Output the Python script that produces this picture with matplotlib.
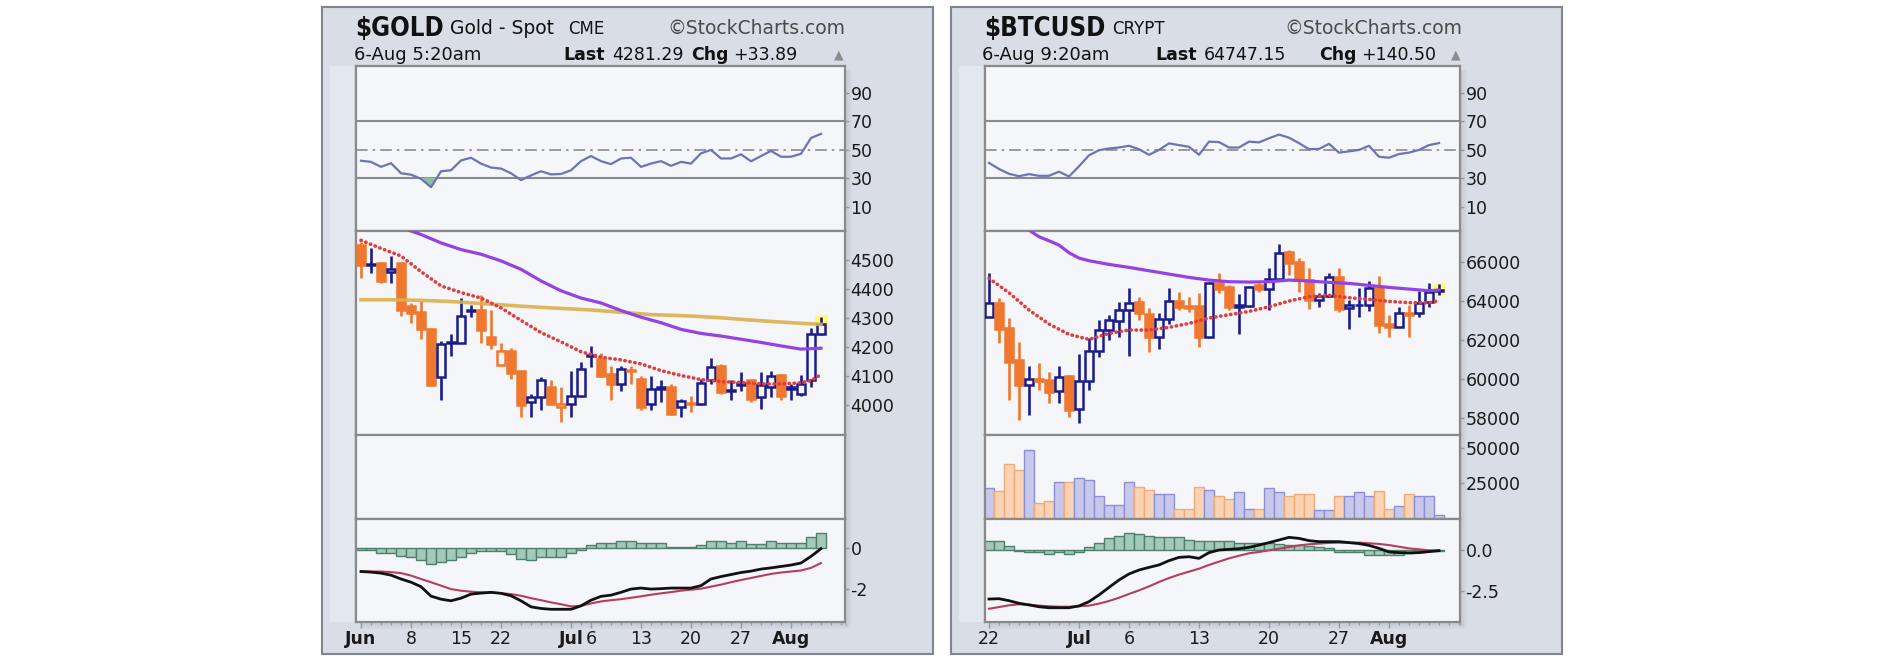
import matplotlib
matplotlib.use("Agg")
import matplotlib.pyplot as plt
from matplotlib.patches import Rectangle

# ---------------- data ----------------
# $GOLD, daily candles Jun 1 .. Aug 6 (trading days, index 0..46)
gold_open = [4551, 4483, 4489, 4457, 4489, 4343, 4320, 4264, 4096, 4213,
             4215, 4325, 4329, 4233, 4138, 4185, 4117, 4011, 4028, 4062,
             3994, 4005, 4033, 4168, 4159, 4107, 4073, 4122, 4090, 4005,
             4056, 4062, 3994, 4008, 4005, 4085, 4136, 4048, 4071, 4085,
             4028, 4062, 4104, 4056, 4039, 4085, 4244]
gold_high = [4563, 4540, 4492, 4514, 4494, 4352, 4358, 4266, 4221, 4244,
             4369, 4346, 4381, 4329, 4215, 4198, 4119, 4039, 4096, 4085,
             4062, 4119, 4147, 4204, 4181, 4136, 4136, 4136, 4102, 4102,
             4085, 4073, 4022, 4033, 4090, 4164, 4142, 4085, 4115, 4087,
             4115, 4119, 4107, 4073, 4104, 4267, 4304]
gold_low = [4437, 4454, 4420, 4420, 4307, 4284, 4227, 4065, 4016, 4170,
            4213, 4304, 4215, 4195, 4136, 4090, 3959, 3959, 3982, 3999,
            3942, 3959, 4028, 4130, 4096, 4016, 4050, 4073, 3982, 3982,
            4011, 3965, 3959, 3977, 3999, 4073, 4039, 4016, 4050, 4011,
            3988, 4028, 4016, 4016, 4033, 4062, 4242]
gold_close = [4483, 4486, 4426, 4469, 4327, 4318, 4261, 4068, 4210, 4218,
              4307, 4329, 4259, 4210, 4187, 4111, 3999, 4028, 4088, 4005,
              4003, 4033, 4124, 4172, 4102, 4073, 4124, 4117, 3994, 4056,
              4061, 3971, 4013, 4004, 4077, 4130, 4045, 4053, 4076, 4022,
              4068, 4102, 4033, 4061, 4073, 4244, 4281]
gold_close_before = 4560

gold_ema20_x = [0, 2, 4, 6, 8, 10, 12, 14, 16, 18, 20, 22, 24, 26, 28, 30,
                32, 34, 36, 38, 40, 42, 44, 45, 46]
gold_ema20 = [4568, 4540, 4514, 4460, 4411, 4388, 4369, 4335, 4292, 4250,
              4218, 4184, 4165, 4156, 4142, 4119, 4102, 4088, 4081, 4078,
              4073, 4073, 4077, 4085, 4105]
gold_sma50_x = [4, 5, 6, 8, 10, 12, 14, 16, 18, 20, 22, 24, 26, 28, 30, 32,
                34, 36, 38, 40, 42, 44, 46]
gold_sma50 = [4615, 4600, 4588, 4559, 4536, 4520, 4497, 4468, 4428, 4394,
              4369, 4352, 4326, 4303, 4284, 4261, 4247, 4238, 4227, 4216,
              4204, 4193, 4196]
gold_sma200_x = [0, 3, 6, 9, 13, 16, 19, 23, 26, 29, 33, 36, 39, 43, 46]
gold_sma200 = [4363, 4363, 4361, 4357, 4348, 4341, 4335, 4328, 4320, 4312,
               4307, 4301, 4293, 4284, 4278]

gold_rsi = [42.4, 41.6, 38.1, 40.7, 33.6, 32.6, 29.7, 23.8, 35.0, 35.7,
            42.6, 44.5, 40.4, 37.6, 36.9, 33.6, 28.8, 32.1, 35.0, 32.8,
            33.1, 35.7, 42.1, 45.7, 42.1, 40.0, 44.0, 44.5, 38.1, 40.4,
            42.1, 38.8, 41.6, 40.4, 47.6, 50.0, 44.0, 44.0, 46.9, 42.0,
            45.7, 49.3, 45.2, 45.2, 47.3, 58.4, 61.3]

gold_macd = [-1.15, -1.18, -1.23, -1.33, -1.52, -1.68, -1.90, -2.37, -2.52, -2.60,
             -2.47, -2.27, -2.22, -2.18, -2.23, -2.35, -2.60, -2.90, -2.98, -3.02,
             -3.02, -3.02, -2.85, -2.57, -2.38, -2.32, -2.18, -2.02, -1.97, -2.02,
             -2.00, -1.97, -1.97, -1.97, -1.85, -1.52, -1.40, -1.30, -1.20, -1.13,
             -1.03, -0.97, -0.90, -0.83, -0.73, -0.40, -0.02]
gold_signal = [-1.15, -1.15, -1.15, -1.18, -1.23, -1.35, -1.52, -1.68, -1.85, -2.02,
               -2.10, -2.15, -2.18, -2.20, -2.22, -2.27, -2.35, -2.47, -2.57, -2.68,
               -2.77, -2.88, -2.85, -2.73, -2.63, -2.57, -2.52, -2.45, -2.38, -2.30,
               -2.23, -2.17, -2.10, -2.05, -2.00, -1.90, -1.80, -1.68, -1.57, -1.47,
               -1.37, -1.27, -1.20, -1.15, -1.10, -0.97, -0.73]
gold_hist = [-0.10, -0.10, -0.23, -0.23, -0.38, -0.43, -0.57, -0.77, -0.68, -0.60,
             -0.43, -0.23, -0.13, -0.13, -0.13, -0.27, -0.52, -0.57, -0.43, -0.43,
             -0.43, -0.23, -0.07, 0.18, 0.27, 0.27, 0.37, 0.37, 0.27, 0.27,
             0.27, 0.07, 0.07, 0.07, 0.15, 0.35, 0.35, 0.27, 0.35, 0.23,
             0.23, 0.35, 0.27, 0.27, 0.27, 0.57, 0.77]

gold_tick_idx = [0, 5, 10, 14, 21, 23, 28, 33, 38, 43]
gold_tick_labels = ["Jun", "8", "15", "22", "Jul", "6", "13", "20", "27", "Aug"]

# $BTCUSD, daily candles Jun 22 .. Aug 6 (index 0..45)
btc_open = [63158, 63907, 62596, 60979, 59703, 59992, 59958, 59413, 60162, 58460,
            59924, 61456, 62511, 62987, 63532, 63958, 63328, 62170, 63056, 64009,
            63736, 63736, 62136, 64928, 64689, 63702, 63736, 64809, 64587, 65098,
            66511, 66000, 65064, 64043, 64247, 65234, 63617, 63770, 63787, 64638,
            62800, 62681, 63294, 63396, 63958, 64500]
btc_high = [65438, 64128, 63107, 61915, 60673, 60843, 60383, 60673, 60200, 61285,
            62085, 63022, 63277, 63958, 64638, 64213, 63617, 63396, 64638, 64468,
            64213, 64383, 64979, 65438, 64809, 64349, 64757, 64928, 65660, 66902,
            66596, 66170, 65660, 64383, 65438, 65660, 64043, 64638, 65030, 65268,
            63277, 63702, 63787, 64519, 64928, 64860]
btc_low = [63158, 61830, 58937, 57916, 58171, 59447, 58767, 58767, 58052, 57745,
           59447, 61149, 62000, 62170, 61183, 63022, 61405, 61524, 62817, 63532,
           63447, 61626, 62100, 64383, 63532, 62307, 63702, 64468, 63532, 65064,
           65319, 64468, 63566, 63668, 64213, 63447, 62545, 63158, 63498, 62341,
           62136, 62647, 62136, 63158, 63702, 64298]
btc_close = [63907, 62545, 60894, 59703, 60009, 59924, 59362, 60128, 58426, 59924,
             61456, 62511, 63022, 63532, 63907, 63396, 62136, 63056, 64009, 63668,
             63634, 62136, 64928, 64587, 63668, 63770, 64689, 64587, 65098, 66460,
             65915, 65064, 64043, 64247, 65200, 63566, 63787, 63805, 64638, 62766,
             62681, 63396, 63362, 63907, 64468, 64560]
btc_close_before = 63500

btc_ema20_x = [0, 2, 4, 6, 8, 10, 12, 14, 16, 18, 20, 22, 24, 26, 28, 30,
               32, 34, 36, 38, 40, 42, 44, 45]
btc_ema20 = [65149, 64417, 63532, 62817, 62290, 62034, 62341, 62511, 62511, 62647,
             62851, 63124, 63294, 63464, 63702, 63992, 64213, 64281, 64162, 64077,
             63975, 63907, 63907, 64009]
btc_sma50_x = [4, 5, 6, 7, 8, 9, 10, 12, 14, 16, 18, 20, 22, 24, 26, 28, 30,
               32, 34, 36, 38, 40, 42, 44, 45]
btc_sma50 = [67617, 67277, 67072, 66851, 66460, 66187, 66051, 65864, 65711, 65540,
             65370, 65200, 65064, 64979, 64962, 64979, 65064, 65013, 64945, 64894,
             64792, 64689, 64604, 64519, 64553]

btc_rsi = [40.9, 36.6, 33.2, 31.5, 33.0, 31.8, 31.8, 34.7, 31.3, 38.5,
           46.2, 49.8, 51.0, 51.7, 52.9, 50.5, 46.6, 50.0, 54.6, 53.4,
           52.2, 46.6, 55.8, 55.5, 51.7, 51.7, 55.8, 55.3, 58.2, 60.8,
           58.6, 54.8, 50.5, 50.7, 54.3, 48.1, 49.0, 50.0, 52.9, 45.2,
           44.5, 47.1, 48.1, 50.0, 53.4, 54.8]

btc_volume = [21420, 19750, 38560, 34030, 48310, 11190, 12610, 25700, 25700, 28560,
              27370, 15950, 10000, 10000, 25700, 22610, 20230, 17140, 17140, 7140,
              7140, 22610, 20230, 15950, 14280, 18560, 7140, 7140, 21420, 18560,
              15950, 17140, 17140, 5950, 5950, 15950, 15950, 18560, 15950, 19750,
              7140, 8810, 17140, 15950, 15950, 2860]

btc_macd = [-2.99, -2.97, -3.09, -3.25, -3.35, -3.46, -3.52, -3.52, -3.52, -3.41,
            -3.15, -2.74, -2.28, -1.83, -1.46, -1.22, -1.06, -0.91, -0.65, -0.45,
            -0.41, -0.51, -0.16, 0.00, 0.04, 0.08, 0.16, 0.30, 0.45, 0.61,
            0.77, 0.71, 0.57, 0.51, 0.51, 0.51, 0.45, 0.39, 0.28, 0.10,
            -0.12, -0.16, -0.18, -0.16, -0.10, -0.04]
btc_signal = [-3.58, -3.48, -3.37, -3.31, -3.33, -3.39, -3.43, -3.46, -3.46, -3.43,
              -3.39, -3.27, -3.11, -2.91, -2.68, -2.46, -2.22, -1.95, -1.71, -1.50,
              -1.32, -1.14, -0.91, -0.71, -0.51, -0.35, -0.20, -0.12, -0.02, 0.08,
              0.18, 0.28, 0.35, 0.39, 0.43, 0.45, 0.45, 0.45, 0.41, 0.37,
              0.30, 0.20, 0.10, 0.04, -0.02, -0.04]
btc_hist = [0.57, 0.57, 0.24, -0.04, -0.14, -0.14, -0.24, -0.14, -0.24, -0.14,
            0.20, 0.41, 0.71, 0.85, 1.06, 0.96, 0.85, 0.81, 0.81, 0.77,
            0.61, 0.57, 0.57, 0.57, 0.57, 0.41, 0.41, 0.41, 0.41, 0.37,
            0.30, 0.30, 0.24, 0.20, 0.10, -0.14, -0.14, -0.14, -0.30, -0.30,
            -0.30, -0.30, -0.20, -0.10, -0.04, -0.04]

btc_tick_idx = [0, 9, 14, 21, 28, 35, 40]
btc_tick_labels = ["22", "Jul", "6", "13", "20", "27", "Aug"]

# ---------------- styling ----------------
W, H = 1886, 662
BG = "#f5f6fa"
PANEL = "#d9dee6"
BLUE = "#1a1c8c"
ORANGE = "#f0772e"
SPINE = "#8a8a8a"

plt.rcParams["font.family"] = ["DejaVu Sans"]

fig = plt.figure(figsize=(W / 100, H / 100), dpi=100)
fig.patch.set_facecolor("white")


def box(x0, y0, x1, y1):
    return [x0 / W, 1 - y1 / H, (x1 - x0) / W, (y1 - y0) / H]


def fig_rect(x0, y0, x1, y1, **kw):
    fig.add_artist(Rectangle((x0 / W, 1 - y1 / H), (x1 - x0) / W, (y1 - y0) / H,
                             transform=fig.transFigure, zorder=0, **kw))


def fig_text(x, y, s, **kw):
    fig.text(x / W, 1 - y / H, s, va="baseline", **kw)


ROWS = [(66, 231), (231, 435), (435, 519), (519, 622)]


def make_column(x0, x1, xlim):
    # outer frame, lighter strip on the left, right/bottom shadow
    fig_rect(x0 - 34, 7, x0 - 34 + 611, 654, facecolor=PANEL,
             edgecolor="#80858e", lw=1.5)
    fig_rect(x0 - 26, 66, x0 - 2, 622, facecolor="#e3e7ee", edgecolor="none")
    for k in range(7):
        a = 0.22 * (1 - k / 7)
        fig_rect(x1 + k, 70, x1 + k + 1, 626, facecolor="#6f7785",
                 edgecolor="none", alpha=a)
        fig_rect(x0 + 4, 622 + k, x1 + k, 623 + k, facecolor="#6f7785",
                 edgecolor="none", alpha=a)
    axes = []
    for a, b in ROWS:
        ax = fig.add_axes(box(x0, a, x1, b))
        ax.set_facecolor(BG)
        for s in ax.spines.values():
            s.set_color(SPINE)
            s.set_linewidth(1.6)
        ax.yaxis.tick_right()
        ax.tick_params(axis="y", direction="out", length=3, width=1,
                       color="#9a9a9a", labelsize=12.5, labelcolor="#1a1a1a", pad=1)
        ax.tick_params(axis="x", which="both", bottom=False, labelbottom=False)
        ax.set_xlim(*xlim)
        axes.append(ax)
    return axes


def draw_rsi(ax, rsi):
    x = list(range(len(rsi)))
    ax.set_ylim(-7, 109)
    ax.set_yticks([10, 30, 50, 70, 90])
    ax.axhline(70, color="#8a8a8a", lw=1.5, zorder=1)
    ax.axhline(30, color="#8a8a8a", lw=1.5, zorder=1)
    ax.axhline(50, color="#8a8a8a", lw=1.2, dashes=(7, 3, 1.5, 3), zorder=1)
    low = [v < 30 for v in rsi]
    ax.fill_between(x, rsi, 30, where=low, interpolate=True,
                    color="#8cbfa6", zorder=2)
    ax.plot(x, rsi, color="#6c74b2", lw=1.6, zorder=3)


def draw_candles(ax, o, h, l, c, first_prev):
    x = list(range(len(c)))
    prev = [first_prev] + c[:-1]
    cols = [BLUE if cc >= pp else ORANGE for cc, pp in zip(c, prev)]
    faces = [col if cc < oo else BG for col, cc, oo in zip(cols, c, o)]
    bottoms = [min(oo, cc) for oo, cc in zip(o, c)]
    heights = [abs(cc - oo) for oo, cc in zip(o, c)]
    ax.vlines(x, l, h, colors=cols, lw=1.9, zorder=3)
    ax.bar(x, heights, bottom=bottoms, width=0.72, color=faces,
           edgecolor=cols, linewidth=1.8, zorder=4)
    pad = (h[-1] - l[-1]) * 0.08
    ax.add_patch(Rectangle((x[-1] - 0.65, l[-1] - pad), 1.3, h[-1] - l[-1] + 2 * pad,
                           facecolor="#ffff6e", edgecolor="none", zorder=2))
    return cols


def draw_ma(ax, xs, ys, kind):
    if kind == "ema":
        ax.plot(xs, ys, color="#e23c3c", lw=2.6, linestyle=(0, (0.1, 1.3)),
                dash_capstyle="round", zorder=6)
    elif kind == "sma50":
        ax.plot(xs, ys, color="#9343e4", lw=2.3, zorder=5)
    else:
        ax.plot(xs, ys, color="#dab04a", lw=2.6, alpha=0.9, zorder=5)


def draw_macd(ax, macd, signal, hist, ylim, yticks, ylabels):
    x = list(range(len(macd)))
    ax.set_ylim(*ylim)
    ax.set_yticks(yticks)
    ax.set_yticklabels(ylabels)
    ax.bar(x, hist, width=1.0, color="#a2c9b9", edgecolor="#4f806b", lw=1.0, zorder=2)
    ax.plot(x, signal, color="#b83d5c", lw=1.5, zorder=3)
    ax.plot(x, macd, color="#111111", lw=2.0, zorder=4)


def date_axis(ax, idx, labels, last_day):
    ax.tick_params(axis="x", which="both", bottom=True, labelbottom=True,
                   direction="out", color="#9a9a9a")
    ax.tick_params(axis="x", which="major", length=4, width=1, pad=2,
                   labelsize=12.5, labelcolor="#1a1a1a")
    ax.tick_params(axis="x", which="minor", length=2.5, width=0.8)
    ax.set_xticks(idx)
    ax.set_xticklabels(labels)
    ax.set_xticks(range(0, last_day + 1), minor=True)
    for t in ax.get_xticklabels():
        if t.get_text().isalpha():
            t.set_fontweight("bold")


# ---------------- $GOLD ----------------
g_rsi, g_price, g_vol, g_macd = make_column(356, 845, (-0.5, 48.4))
draw_rsi(g_rsi, gold_rsi)
draw_candles(g_price, gold_open, gold_high, gold_low, gold_close, gold_close_before)
draw_ma(g_price, gold_sma200_x, gold_sma200, "sma200")
draw_ma(g_price, gold_sma50_x, gold_sma50, "sma50")
draw_ma(g_price, gold_ema20_x, gold_ema20, "ema")
g_price.set_ylim(3897, 4600)
g_price.set_yticks([4000, 4100, 4200, 4300, 4400, 4500])
g_vol.set_yticks([])
draw_macd(g_macd, gold_macd, gold_signal, gold_hist, (-3.65, 1.45), [0, -2], ["0", "-2"])
date_axis(g_macd, gold_tick_idx, gold_tick_labels, 48)

fig_text(355, 36, "$GOLD", fontsize=18.5, fontweight="bold", fontstretch="condensed",
         color="#111111")
fig_text(450, 33.5, "Gold - Spot", fontsize=13.5, color="#111111")
fig_text(568, 33.5, "CME", fontsize=12, color="#111111")
fig_text(845, 33.5, "\u00a9StockCharts.com", fontsize=13.5, color="#4a4a4a", ha="right")
fig_text(354, 59.5, "6-Aug 5:20am", fontsize=13, color="#111111")
fig_text(563, 59.5, "Last", fontsize=12.5, fontweight="bold", color="#111111")
fig_text(612, 59.5, "4281.29", fontsize=12.5, color="#111111")
fig_text(691, 59.5, "Chg", fontsize=12.5, fontweight="bold", color="#111111")
fig_text(733, 59.5, "+33.89", fontsize=12.5, color="#111111")
fig_text(834, 58, "\u25b2", fontsize=9, color="#8c8c8c")

# ---------------- $BTCUSD ----------------
b_rsi, b_price, b_vol, b_macd = make_column(985, 1460, (-0.4, 47.1))
draw_rsi(b_rsi, btc_rsi)
b_cols = draw_candles(b_price, btc_open, btc_high, btc_low, btc_close, btc_close_before)
draw_ma(b_price, btc_sma50_x, btc_sma50, "sma50")
draw_ma(b_price, btc_ema20_x, btc_ema20, "ema")
b_price.set_ylim(57150, 67570)
b_price.set_yticks([58000, 60000, 62000, 64000, 66000])

vol_face = ["#c8c8ec" if c == BLUE else "#f9d3b4" for c in b_cols]
vol_edge = ["#8d8fd2" if c == BLUE else "#f1aa78" for c in b_cols]
b_vol.bar(range(len(btc_volume)), btc_volume, width=1.0, color=vol_face,
          edgecolor=vol_edge, lw=1.0, zorder=2)
b_vol.set_ylim(0, 58750)
b_vol.set_yticks([25000, 50000])

draw_macd(b_macd, btc_macd, btc_signal, btc_hist, (-4.39, 1.89), [0, -2.5], ["0.0", "-2.5"])
date_axis(b_macd, btc_tick_idx, btc_tick_labels, 47)

fig_text(984, 35.7, "$BTCUSD", fontsize=18.5, fontweight="bold", fontstretch="condensed",
         color="#111111")
fig_text(1112, 34.3, "CRYPT", fontsize=12, color="#111111")
fig_text(1462, 34.3, "\u00a9StockCharts.com", fontsize=13.5, color="#4a4a4a", ha="right")
fig_text(982, 59.5, "6-Aug 9:20am", fontsize=13, color="#111111")
fig_text(1155, 59.5, "Last", fontsize=12.5, fontweight="bold", color="#111111")
fig_text(1204, 59.5, "64747.15", fontsize=12.5, color="#111111")
fig_text(1319, 59.5, "Chg", fontsize=12.5, fontweight="bold", color="#111111")
fig_text(1361, 59.5, "+140.50", fontsize=12.5, color="#111111")
fig_text(1451, 58, "\u25b2", fontsize=9, color="#8c8c8c")

fig.savefig("out.png", dpi=100, facecolor=fig.get_facecolor())
